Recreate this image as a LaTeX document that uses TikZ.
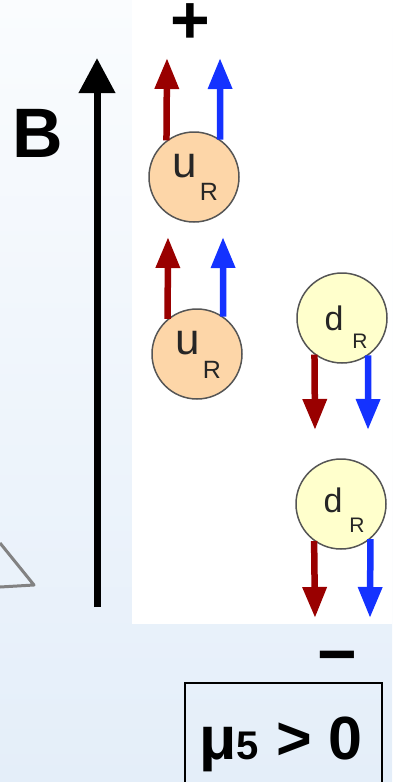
\documentclass[tikz,border=0pt]{standalone}
\usepackage{fontspec}
\setmainfont{Liberation Sans}
\usetikzlibrary{arrows.meta}
\definecolor{qred}{RGB}{153,0,0}
\definecolor{qblue}{RGB}{20,50,255}
\definecolor{upeach}{RGB}{253,214,168}
\definecolor{dyellow}{RGB}{255,255,204}
\definecolor{ringgray}{RGB}{85,85,85}
\definecolor{bgtop}{RGB}{250,252,254}
\definecolor{bgbottom}{RGB}{228,238,249}
\definecolor{trigray}{RGB}{130,130,130}
\begin{document}
\begin{tikzpicture}[x=1pt,y=-1pt,
  quark/.style={circle,draw=ringgray,line width=1.5pt,minimum size=90pt,inner sep=0pt},
  upq/.style={quark,fill=upeach},
  dnq/.style={quark,fill=dyellow},
  qletter/.style={inner sep=0pt,text=black!85,font=\fontsize{44}{44}\selectfont},
  dletter/.style={inner sep=0pt,text=black!85,font=\fontsize{34}{34}\selectfont},
  qsub/.style={inner sep=0pt,text=black!85,font=\fontsize{25}{25}\selectfont},
  dsub/.style={inner sep=0pt,text=black!85,font=\fontsize{21}{21}\selectfont},
  spinred/.style={draw=qred,line width=6.5pt,-{Triangle[width=23pt,length=31pt]}},
  spinblue/.style={draw=qblue,line width=6.5pt,-{Triangle[width=23pt,length=31pt]}},
  bigsign/.style={inner sep=0pt,font=\bfseries\fontsize{68}{68}\selectfont}
]
\useasboundingbox (0,0) rectangle (392,782);
% background
\shade[top color=bgtop,bottom color=bgbottom] (0,0) rectangle (392,782);
\fill[white] (132,0) rectangle (392,624);
% partial triangle at left
\coordinate (t1) at (0,543);
\coordinate (t2) at (34,585);
\coordinate (t3) at (0,587);
\draw[trigray,line width=3pt,line join=round] (t1) -- (t2) -- (t3);
% magnetic field arrow
\coordinate (bbot) at (97,607);
\coordinate (btop) at (97,58);
\draw[line width=7pt,-{Triangle[width=35pt,length=35pt]}] (bbot) -- (btop);
\node[inner sep=0pt,anchor=base west,font=\bfseries\fontsize{70}{70}\selectfont] (blabel) at (12,157) {B};
% plus / minus
\node[bigsign] (plus) at (190,24) {+};
\node[bigsign,anchor=north] (minus) at (337,651) {−};
% up quarks
\node[upq] (u1) at (194,177) {};
\node[qletter] (u1l) at (185,166) {u};
\node[qsub] (u1s) at (209,192) {R};
\node[upq] (u2) at (197,354) {};
\node[qletter] (u2l) at (188,343) {u};
\node[qsub] (u2s) at (212,370) {R};
% down quarks
\node[dnq] (d1) at (342,318) {};
\node[dletter] (d1l) at (334,318) {d};
\node[dsub] (d1s) at (360,341) {R};
\node[dnq] (d2) at (341,504) {};
\node[dletter] (d2l) at (333,500) {d};
\node[dsub] (d2s) at (357,525) {R};
% spin arrows
\coordinate (u1rt) at (167,58);
\coordinate (u1bt) at (220,58);
\coordinate (u2rt) at (168,237);
\coordinate (u2bt) at (223,237);
\coordinate (d1rt) at (315,430);
\coordinate (d1bt) at (368,430);
\coordinate (d2rt) at (315,618);
\coordinate (d2bt) at (370,618);
\draw[spinred] (u1.127) -- (u1rt);
\draw[spinblue] (u1.55) -- (u1bt);
\draw[spinred] (u2.130) -- (u2rt);
\draw[spinblue] (u2.55) -- (u2bt);
\draw[spinred] (d1.233) -- (d1rt);
\draw[spinblue] (d1.305) -- (d1bt);
\draw[spinred] (d2.234) -- (d2rt);
\draw[spinblue] (d2.310) -- (d2bt);
% chemical potential box
\coordinate (boxtl) at (185,683);
\coordinate (boxbr) at (382,790);
\draw[line width=2pt] (boxtl) rectangle (boxbr);
\node[inner sep=0pt,anchor=base,font=\bfseries\fontsize{61}{61}\selectfont] (mu) at (281,759) {μ{\fontsize{40}{40}\selectfont 5} > 0};
\end{tikzpicture}
\end{document}
